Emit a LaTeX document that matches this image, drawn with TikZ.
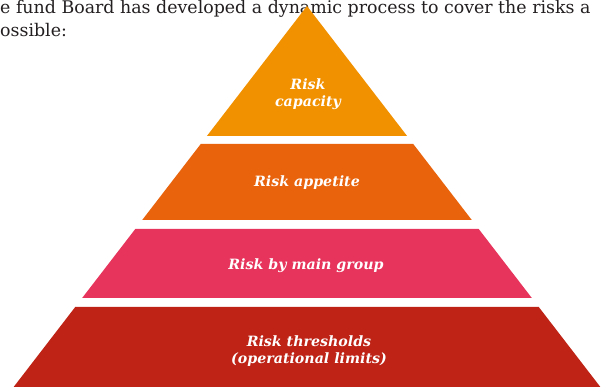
\documentclass[tikz,border=0pt]{standalone}
\usepackage{fontspec}
\setmainfont{DejaVu Serif}
\usepackage{xcolor}
\usepackage{tikz}
\usetikzlibrary{positioning}
\definecolor{tOrange}{HTML}{F29100}
\definecolor{tAmber}{HTML}{E8630C}
\definecolor{tRose}{HTML}{E6345C}
\definecolor{tRed}{HTML}{BE2316}
\definecolor{bodyText}{HTML}{231F20}
\tikzset{
  tierlabel/.style={text=white, font=\fontsize{14.2}{17.5}\selectfont\bfseries\itshape, align=center, inner sep=0pt},
  bodyline/.style={text=bodyText, font=\fontsize{17.4}{22}\selectfont, anchor=base west, inner sep=0pt}
}
\begin{document}
\begin{tikzpicture}[x=1pt, y=-1pt]
  \useasboundingbox (0,0) rectangle (603,387);
  \clip (0,0) rectangle (603,387);
  % running text above the figure
  \node[bodyline] (lineA) at (0,14) {e fund Board has developed a dynamic process to cover the risks a};
  \node[bodyline] (lineB) at (0,37) {ossible:};
  % pyramid tiers
  \foreach \ya/\yb/\c in {6/136/tOrange, 144/220/tAmber, 229/298/tRose, 307/390/tRed} {
    \fill[\c] ({307-0.77*(\ya-6)},\ya) -- ({307+0.77*(\ya-6)},\ya)
      -- ({307+0.77*(\yb-6)},\yb) -- ({307-0.77*(\yb-6)},\yb) -- cycle;
  }
  \node[tierlabel] (capacity) at (308,94) {Risk\\capacity};
  \node[tierlabel] (appetite) at (307,183) {Risk appetite};
  \node[tierlabel] (group) at (306,266) {Risk by main group};
  \node[tierlabel] (limits) at (309,351) {Risk thresholds\\(operational limits)};
\end{tikzpicture}
\end{document}
